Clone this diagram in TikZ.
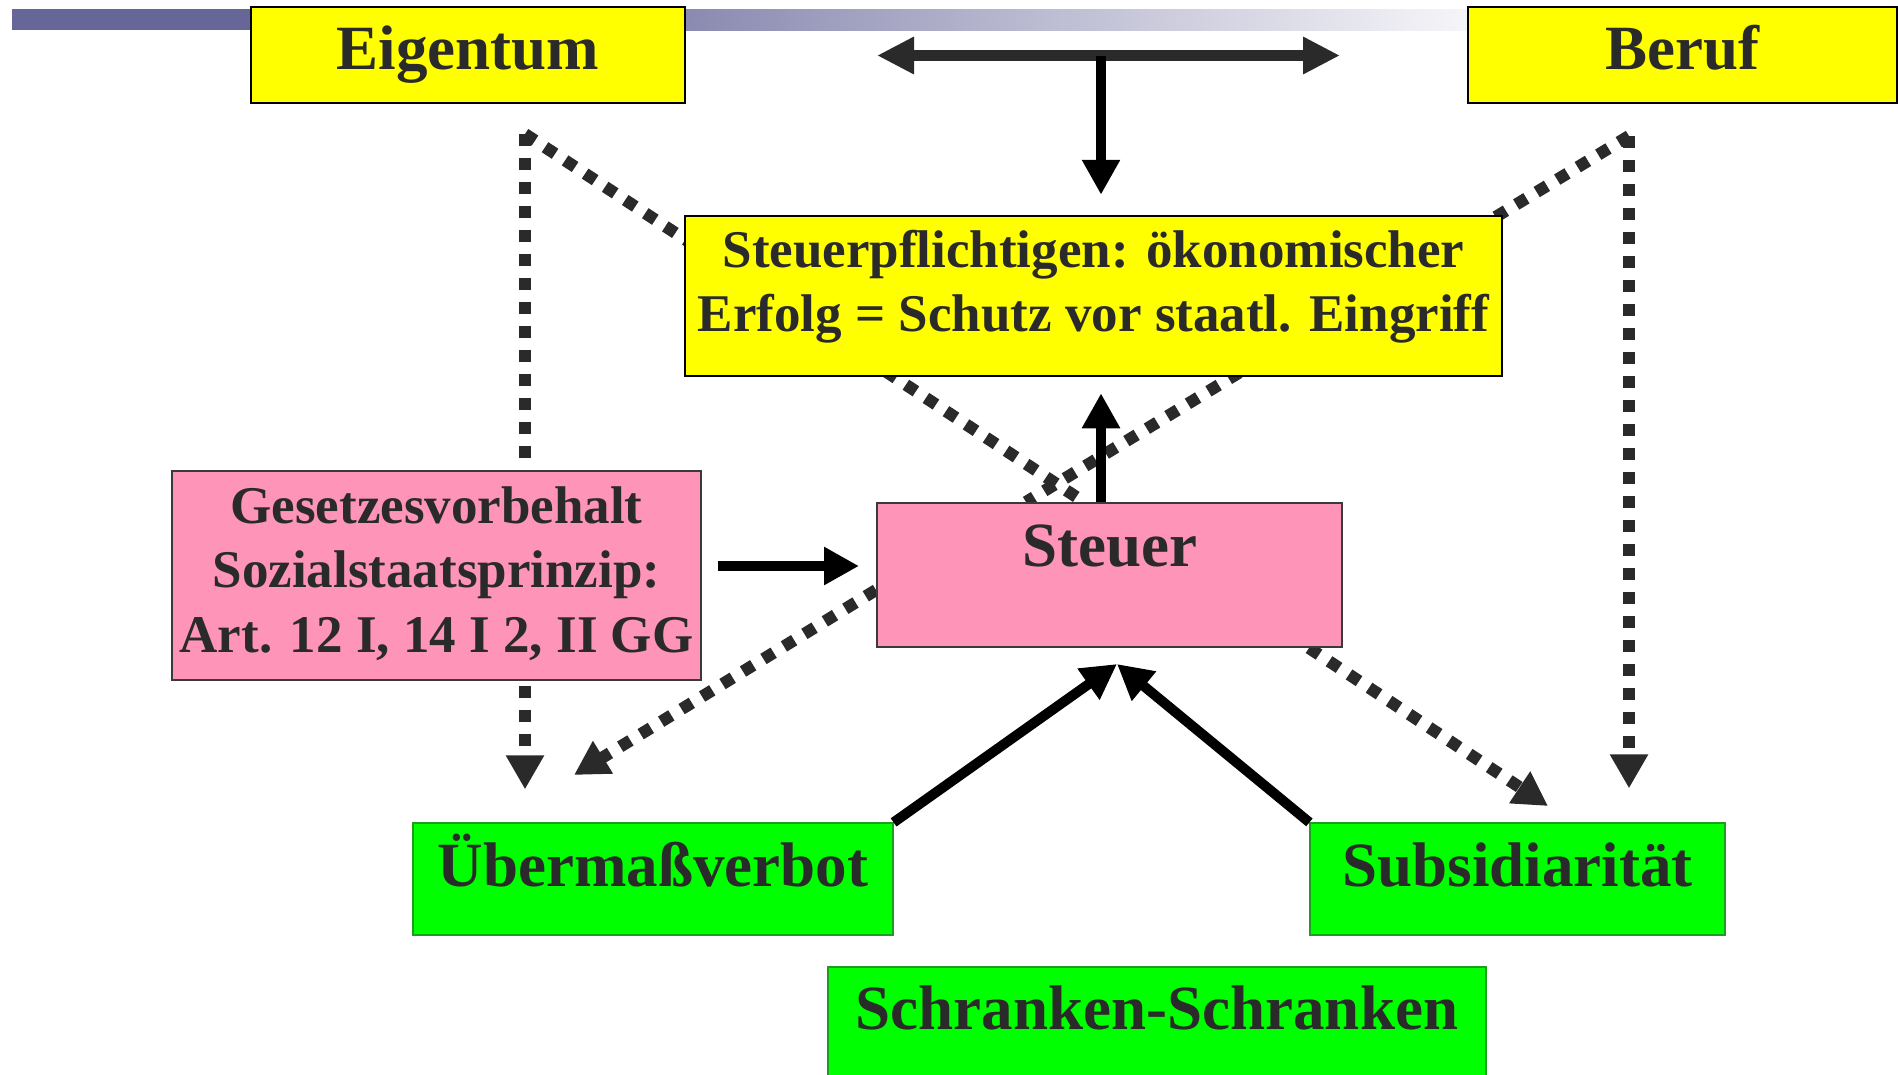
\documentclass[tikz,border=0pt]{standalone}
\usepackage{fontspec}
\setmainfont{Liberation Serif}
\usetikzlibrary{arrows.meta,calc}
\pgfdeclarelayer{bg}
\pgfsetlayers{bg,main}

\definecolor{barblue}{HTML}{666699}
\definecolor{ink}{HTML}{2A2A2A}
\definecolor{boxyellow}{HTML}{FFFF00}
\definecolor{boxpink}{HTML}{FF94B9}
\definecolor{pinkedge}{HTML}{3A3A3A}
\definecolor{boxgreen}{HTML}{00FF00}
\definecolor{greenedge}{HTML}{1E9E1E}

\tikzset{
  box/.style={rectangle, inner sep=0pt, text=ink},
  yellowbox/.style={box, fill=boxyellow, draw=black, line width=2.5pt},
  pinkbox/.style={box, fill=boxpink, draw=pinkedge, line width=2pt},
  greenbox/.style={box, fill=boxgreen, draw=greenedge, line width=1.2pt},
  bigtext/.style={font=\fontsize{63}{76}\selectfont\bfseries},
  midtext/.style={font=\fontsize{53}{64}\selectfont\bfseries, align=center},
  solidarrow/.style={draw=black, line width=10pt, -{Triangle[length=35pt,width=36pt]}},
  twoway/.style={draw=ink, line width=11pt,
    {Triangle[length=37pt,width=35pt]}-{Triangle[length=37pt,width=35pt]}},
  dotline/.style={draw=ink, line width=12pt, dash pattern=on 12pt off 12pt},
  dotarrow/.style={dotline, -{Triangle[length=34pt,width=36pt]}},
}

\begin{document}
\begin{tikzpicture}[x=1pt,y=-1pt]
\useasboundingbox (0,0) rectangle (1898,1074);

% boxes
\node[yellowbox, bigtext, minimum width=434pt, minimum height=96pt,
      text height=62pt, text depth=34pt] (eig) at (468,55) {Eigentum};
\node[yellowbox, bigtext, minimum width=429pt, minimum height=96pt,
      text height=62pt, text depth=34pt] (ber) at (1682.5,55) {Beruf};
\node[yellowbox, midtext, minimum width=817pt, minimum height=160pt] (pflicht) at (1093.5,296)
  {\rule{0pt}{51pt}Steuerpflichtigen: ökonomischer\\Erfolg = Schutz vor staatl. Eingriff\rule[-45pt]{0pt}{45pt}};
\node[pinkbox, font=\fontsize{53}{64.5}\selectfont\bfseries, align=center,
      minimum width=529pt, minimum height=209pt] (ges) at (436.5,575.5)
  {\rule{0pt}{52pt}Gesetzesvorbehalt\\Sozialstaatsprinzip:\\Art. 12 I, 14 I 2, II GG\rule[-28pt]{0pt}{28pt}};
\node[pinkbox, bigtext, minimum width=465pt, minimum height=144pt,
      text height=63pt, text depth=81pt] (steuer) at (1109.5,575) {Steuer};
\node[greenbox, bigtext, minimum width=480pt, minimum height=112pt,
      text height=63pt, text depth=49pt] (ueb) at (653,879) {Übermaßverbot};
\node[greenbox, bigtext, minimum width=415pt, minimum height=112pt,
      text height=63pt, text depth=49pt] (sub) at (1517.5,879) {Subsidiarität};
\node[greenbox, bigtext, minimum width=658pt, minimum height=109pt,
      text height=62pt, text depth=47pt] (sch) at (1157,1021.5) {Schranken-Schranken};

% junction and free ends
\coordinate (dl) at (877,55.5);
\coordinate (dr) at (1340,55.5);
\coordinate (dj) at (1101,55.5);
\coordinate (lt) at (525,134);
\coordinate (rt) at (1629,136);
\coordinate (meet) at (1117,664);
\coordinate (uebtip) at (574,775);
\coordinate (subtip) at (1548,806);

% title bar and dotted links behind the boxes
\begin{pgfonlayer}{bg}
  \fill[barblue] (12,9) rectangle (420,30);
  \shade[left color=barblue, right color=barblue!6] (420,9) rectangle (1470,30);
  \draw[dotline] (lt) -- ($(steuer.north west)+(208,0)$);
  \draw[dotline] (rt) -- ($(steuer.north west)+(150,0)$);
  \draw[dotarrow, shorten >=33pt] (lt) -- (lt |- ueb.north);
  \draw[dotarrow, shorten >=34pt] (rt) -- (rt |- sub.north);
  \draw[dotarrow] ([yshift=-15pt]steuer.west) -- (uebtip);
  \draw[dotarrow] ($(steuer.south east)+(-34,0)$) -- (subtip);
\end{pgfonlayer}

% solid connectors
\draw[twoway] (dl) -- (dr);
\draw[solidarrow, shorten >=20pt] (dj) -- (dj |- pflicht.north);
\draw[solidarrow, shorten >=16pt] (steuer.north -| dj) -- (pflicht.south -| dj);
\draw[solidarrow, shorten <=16pt, shorten >=17pt]
  ([yshift=9.5pt]ges.east) -- ([yshift=9.5pt]ges.east -| steuer.west);
\draw[solidarrow] (ueb.north east) -- (meet);
\draw[solidarrow] (sub.north west) -- (meet);
\end{tikzpicture}
\end{document}
